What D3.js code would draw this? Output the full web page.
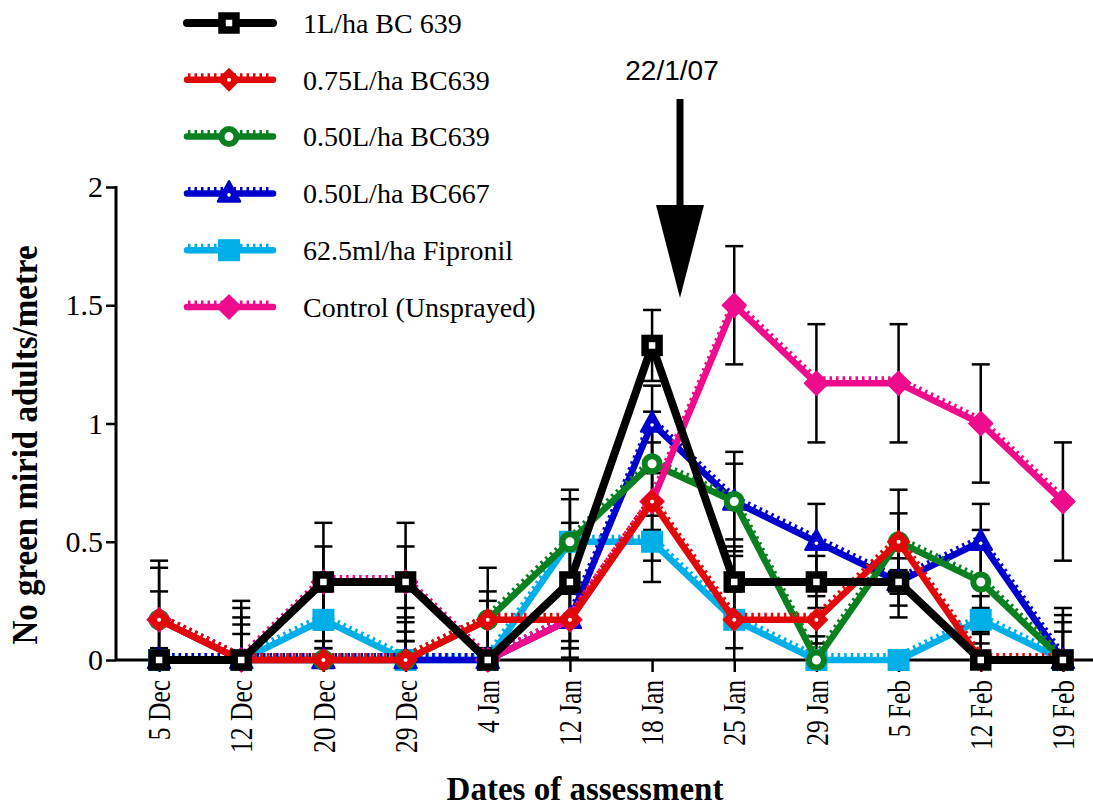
<!DOCTYPE html>
<html lang="en">
<head>
    <meta charset="UTF-8">
    <title>Green mirid adults</title>
    <script src="https://cdn.jsdelivr.net/npm/d3@7"></script>
    <style>
        body { margin: 0; background: #fff; }
        #chart { width: 1093px; height: 807px; }
    </style>
</head>
<body>
<div id="chart"></div>
<script>
    // dates of assessment
    var dates = ["5 Dec", "12 Dec", "20 Dec", "29 Dec", "4 Jan", "12 Jan", "18 Jan",
        "25 Jan", "29 Jan", "5 Feb", "12 Feb", "19 Feb"];
    var yTicks = [0, 0.5, 1, 1.5, 2];

    // series means
    var bc639_1 = [0, 0, 0.33, 0.33, 0, 0.33, 1.33, 0.33, 0.33, 0.33, 0, 0];
    var bc639_075 = [0.17, 0, 0, 0, 0.17, 0.17, 0.67, 0.17, 0.17, 0.5, 0, 0];
    var bc639_050 = [0.17, 0, 0, 0, 0.17, 0.5, 0.83, 0.67, 0, 0.5, 0.33, 0];
    var bc667_050 = [0, 0, 0, 0, 0, 0.17, 1.0, 0.67, 0.5, 0.33, 0.5, 0];
    var fipronil = [0, 0, 0.17, 0, 0, 0.5, 0.5, 0.17, 0, 0, 0.17, 0];
    var control = [0.17, 0, 0.33, 0.33, 0, 0.17, 0.67, 1.5, 1.17, 1.17, 1.0, 0.67];

    // standard errors
    var se_bc639_1 = [0, 0.25, 0.25, 0.25, 0.25, 0.25, 0.15, 0.15, 0.11, 0.15, 0.22, 0.22];
    var se_bc639_075 = [0.12, 0.22, 0.13, 0.22, 0.12, 0.12, 0.25, 0.27, 0.1, 0.22, 0.12, 0.19];
    var se_bc639_050 = [0.25, 0.18, 0.21, 0.16, 0.22, 0.22, 0.22, 0.16, 0.1, 0.12, 0.22, 0.16];
    var se_bc667_050 = [0, 0.15, 0.05, 0.12, 0, 0.16, 0.16, 0.21, 0.16, 0.1, 0.16, 0.12];
    var se_fipronil = [0, 0.11, 0.12, 0.08, 0, 0.18, 0.17, 0.12, 0, 0, 0.1, 0];
    var se_control = [0.22, 0, 0.15, 0.15, 0, 0.12, 0.12, 0.25, 0.25, 0.25, 0.25, 0.25];

    var seriesNames = ["1L/ha BC 639", "0.75L/ha BC639", "0.50L/ha BC639", "0.50L/ha BC667",
        "62.5ml/ha Fipronil", "Control (Unsprayed)"];

    var series = [
        {name: seriesNames[0], values: bc639_1, se: se_bc639_1, color: "#000000", marker: "osquare", teeth: false},
        {name: seriesNames[1], values: bc639_075, se: se_bc639_075, color: "#e00808", marker: "diamondDot", teeth: true},
        {name: seriesNames[2], values: bc639_050, se: se_bc639_050, color: "#0a8020", marker: "ocircle", teeth: true},
        {name: seriesNames[3], values: bc667_050, se: se_bc667_050, color: "#0000cc", marker: "triangle", teeth: true},
        {name: seriesNames[4], values: fipronil, se: se_fipronil, color: "#00aee8", marker: "square", teeth: true},
        {name: seriesNames[5], values: control, se: se_control, color: "#ee0c8c", marker: "diamond", teeth: true}
    ];
    // drawing order: bottom to top
    var drawOrder = [4, 3, 2, 5, 1, 0];

    var serif = "'Liberation Serif', 'Times New Roman', serif";

    var svg = d3.select("#chart").append("svg")
        .attr("width", 1093)
        .attr("height", 807);

    var x = d3.scalePoint().domain(dates).range([118, 1104]).padding(0.5);
    var y = d3.scaleLinear().domain([0, 2]).range([660, 187]);

    // clip for error bars
    svg.append("defs").append("clipPath").attr("id", "plotClip")
        .append("rect").attr("x", 100).attr("y", 150).attr("width", 1000).attr("height", 510);

    // error bars
    var gErr = svg.append("g").attr("clip-path", "url(#plotClip)");
    series.forEach(function (s) {
        s.values.forEach(function (v, i) {
            var e = s.se[i];
            if (!e) return;
            var cx = x(dates[i]);
            var top = y(v + e), bot = y(v - e);
            gErr.append("line").attr("x1", cx).attr("x2", cx).attr("y1", top).attr("y2", bot)
                .attr("stroke", "#000").attr("stroke-width", 2.5);
            [top, bot].forEach(function (yy) {
                gErr.append("line").attr("x1", cx - 9).attr("x2", cx + 9).attr("y1", yy).attr("y2", yy)
                    .attr("stroke", "#000").attr("stroke-width", 2.5);
            });
        });
    });

    // axes
    var yAxis = d3.axisLeft(y).tickValues(yTicks).tickSize(10).tickPadding(3)
        .tickFormat(d3.format(""));
    var gy = svg.append("g").attr("transform", "translate(116,0)").call(yAxis);
    gy.select(".domain").remove();
    gy.selectAll(".tick line").attr("stroke", "#000").attr("stroke-width", 2.5);
    gy.selectAll("text").attr("font-family", serif)
        .attr("font-size", 30).attr("fill", "#000");
    svg.append("line").attr("x1", 116).attr("x2", 116).attr("y1", 186).attr("y2", 661)
        .attr("stroke", "#000").attr("stroke-width", 3);

    var xAxis = d3.axisBottom(x).tickSize(12);
    var gx = svg.append("g").attr("transform", "translate(0,660)").call(xAxis);
    gx.select(".domain").remove();
    gx.selectAll(".tick line").attr("stroke", "#000").attr("stroke-width", 2.5);
    gx.selectAll("text")
        .attr("font-family", serif)
        .attr("font-size", 25.5).attr("fill", "#000")
        .attr("text-anchor", "end")
        .attr("transform", "scale(1.2,1) rotate(-90)")
        .attr("x", -20).attr("y", 0).attr("dy", "0.35em");
    svg.append("line").attr("x1", 115).attr("x2", 1093).attr("y1", 660).attr("y2", 660)
        .attr("stroke", "#000").attr("stroke-width", 3);

    // axis titles
    svg.append("text").attr("transform", "translate(37,445) scale(1.1,1) rotate(-90)")
        .attr("text-anchor", "middle")
        .attr("font-family", serif)
        .attr("font-weight", "bold").attr("font-size", 33)
        .text("No green mirid adults/metre");
    svg.append("text").attr("x", 585).attr("y", 800)
        .attr("text-anchor", "middle")
        .attr("font-family", serif)
        .attr("font-weight", "bold").attr("font-size", 33)
        .text("Dates of assessment");

    // markers
    function drawMarker(g, type, cx, cy, color) {
        var m = g.append("g").attr("transform", "translate(" + cx + "," + cy + ")");
        if (type === "osquare") {
            m.append("rect").attr("x", -7).attr("y", -7).attr("width", 14).attr("height", 14)
                .attr("fill", "#fff").attr("stroke", color).attr("stroke-width", 7.5);
        } else if (type === "diamondDot" || type === "diamond") {
            var r = type === "diamond" ? 12 : 11;
            m.append("path").attr("d", "M0," + (-r) + "L" + r + ",0L0," + r + "L" + (-r) + ",0Z")
                .attr("fill", color).attr("stroke", color).attr("stroke-width", 1.5).attr("stroke-linejoin", "round");
            if (type === "diamondDot") m.append("circle").attr("r", 2).attr("fill", "#fff");
        } else if (type === "ocircle") {
            m.append("circle").attr("r", 7.5).attr("fill", "#fff").attr("stroke", color).attr("stroke-width", 6);
        } else if (type === "triangle") {
            m.append("path").attr("d", "M0,-12L11,8L-11,8Z")
                .attr("fill", color).attr("stroke", color).attr("stroke-width", 2.5).attr("stroke-linejoin", "round");
            m.append("circle").attr("cy", 1.5).attr("r", 1.8).attr("fill", "#fff");
        } else if (type === "square") {
            m.append("rect").attr("x", -11).attr("y", -11).attr("width", 22).attr("height", 22)
                .attr("fill", color);
        }
    }

    var line = d3.line()
        .x(function (d, i) { return x(dates[i]); })
        .y(function (d) { return y(d); });

    var gLines = svg.append("g");
    drawOrder.forEach(function (k) {
        var s = series[k];
        var g = gLines.append("g");
        if (s.teeth) {
            g.append("path").attr("d", line(s.values))
                .attr("transform", "translate(0,-3)")
                .attr("fill", "none").attr("stroke", s.color).attr("stroke-width", 8)
                .attr("stroke-dasharray", "2.5,4");
        }
        g.append("path").attr("d", line(s.values))
            .attr("fill", "none").attr("stroke", s.color)
            .attr("stroke-width", k === 0 ? 8 : 6.5)
            .attr("stroke-linejoin", "round");
        s.values.forEach(function (v, i) {
            drawMarker(g, s.marker, x(dates[i]), y(v), s.color);
        });
    });

    // legend
    var legendY = d3.scalePoint().domain(seriesNames).range([23, 307]);
    var gLeg = svg.append("g");
    series.forEach(function (s) {
        var ly = legendY(s.name);
        var g = gLeg.append("g");
        if (s.teeth) {
            g.append("line").attr("x1", 188).attr("x2", 272).attr("y1", ly - 3).attr("y2", ly - 3)
                .attr("stroke", s.color).attr("stroke-width", 7).attr("stroke-dasharray", "2.5,4");
        }
        g.append("line").attr("x1", 187).attr("x2", 273).attr("y1", ly).attr("y2", ly)
            .attr("stroke", s.color).attr("stroke-width", s.teeth ? 6.5 : 8)
            .attr("stroke-linecap", "round");
        drawMarker(g, s.marker, 229, ly, s.color);
        g.append("text").attr("x", 303).attr("y", ly).attr("dy", "0.35em")
            .attr("font-family", serif)
            .attr("font-size", 28).attr("fill", "#000")
            .text(s.name);
    });

    // spray date annotation
    svg.append("text").attr("x", 672).attr("y", 80).attr("text-anchor", "middle")
        .attr("font-family", "'Liberation Sans', Arial, sans-serif").attr("font-size", 28)
        .text("22/1/07");
    svg.append("line").attr("x1", 680).attr("x2", 680).attr("y1", 99).attr("y2", 215)
        .attr("stroke", "#000").attr("stroke-width", 7);
    svg.append("path").attr("d", "M656,205L704,205L680,298Z").attr("fill", "#000");
</script>
</body>
</html>
